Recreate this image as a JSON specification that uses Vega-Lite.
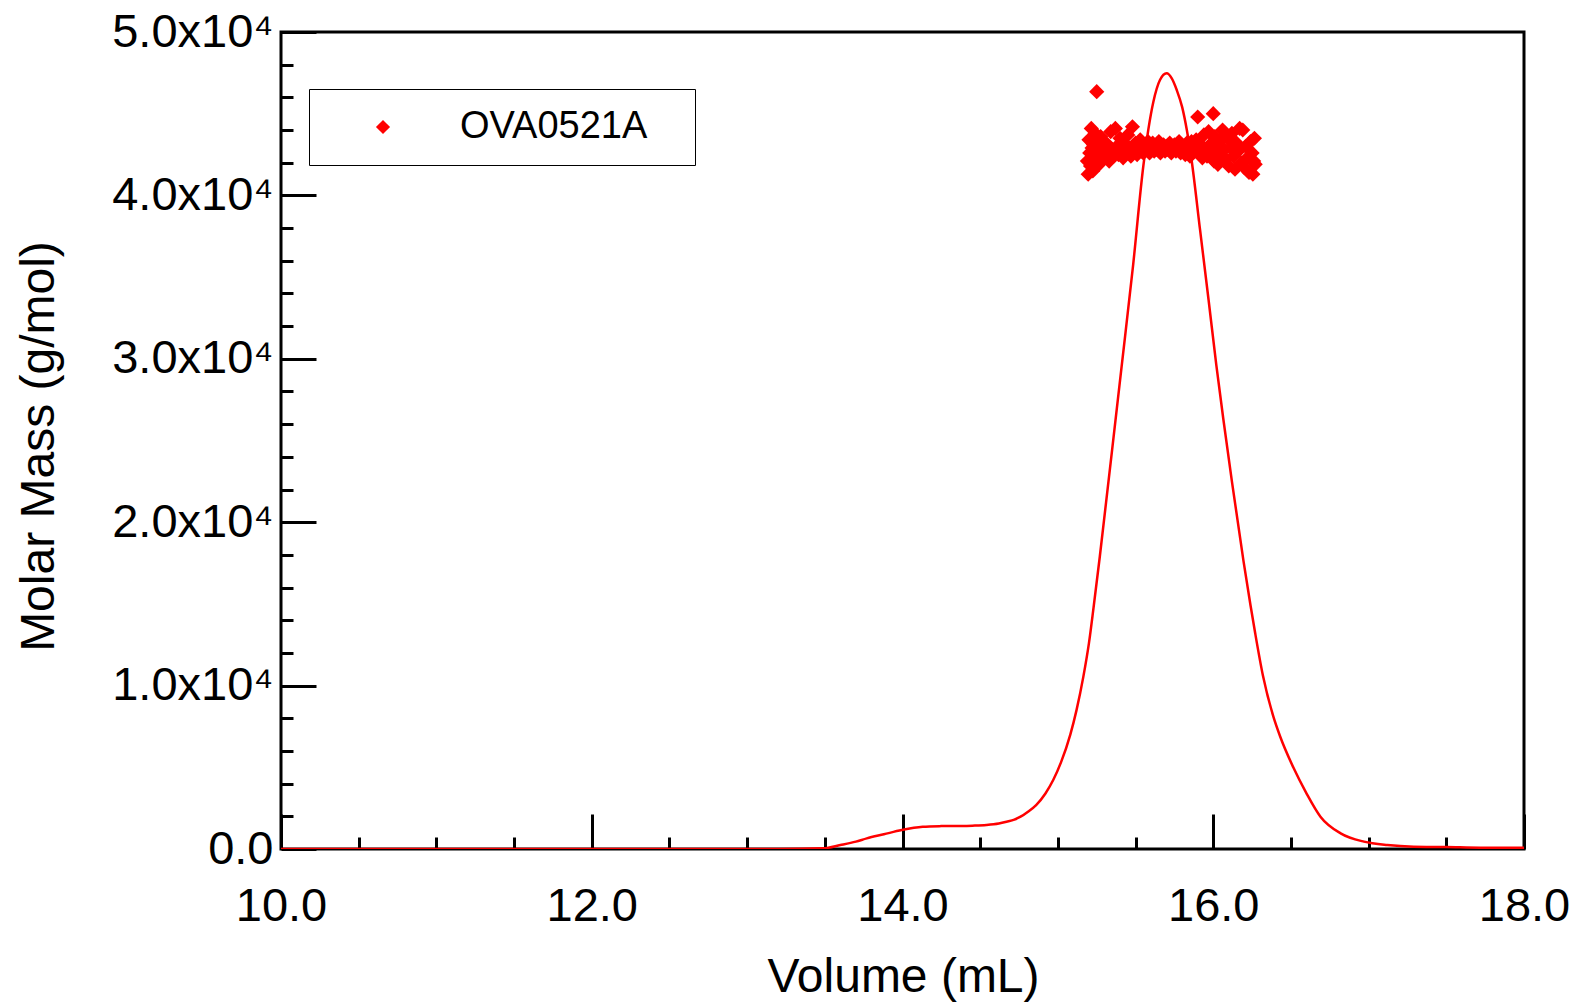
{
  "$schema": "https://vega.github.io/schema/vega-lite/v6.json",
  "width": 1243,
  "height": 817,
  "autosize": {"type": "none"},
  "padding": {"left": 281, "top": 32, "right": 56, "bottom": 155},
  "background": "white",
  "config": {
    "view": {"stroke": "black", "strokeWidth": 3},
    "axis": {
      "labelFont": "Liberation Sans",
      "titleFont": "Liberation Sans",
      "labelColor": "black",
      "titleColor": "black",
      "tickColor": "black",
      "tickWidth": 3,
      "domain": false,
      "grid": false,
      "titleFontWeight": "normal",
      "labelFontSize": 47,
      "titleFontSize": 48
    },
    "legend": {"labelFont": "Liberation Sans"}
  },
  "datasets": {
    "trace": [
      {"volume": 10.0, "signal": 0},
      {"volume": 13.2, "signal": 0},
      {"volume": 13.49, "signal": 40},
      {"volume": 13.6, "signal": 240},
      {"volume": 13.7, "signal": 450},
      {"volume": 13.77, "signal": 650},
      {"volume": 13.88, "signal": 900},
      {"volume": 13.995, "signal": 1160},
      {"volume": 14.13, "signal": 1360},
      {"volume": 14.25, "signal": 1400},
      {"volume": 14.35, "signal": 1410},
      {"volume": 14.45, "signal": 1430},
      {"volume": 14.54, "signal": 1470},
      {"volume": 14.62, "signal": 1560},
      {"volume": 14.67, "signal": 1670},
      {"volume": 14.72, "signal": 1800},
      {"volume": 14.76, "signal": 1980},
      {"volume": 14.81, "signal": 2300},
      {"volume": 14.86, "signal": 2690},
      {"volume": 14.92, "signal": 3400},
      {"volume": 14.97, "signal": 4220},
      {"volume": 15.02, "signal": 5300},
      {"volume": 15.08, "signal": 7000},
      {"volume": 15.12, "signal": 8500},
      {"volume": 15.164, "signal": 10550},
      {"volume": 15.2, "signal": 12600},
      {"volume": 15.23, "signal": 14800},
      {"volume": 15.27, "signal": 17900},
      {"volume": 15.31, "signal": 21200},
      {"volume": 15.35, "signal": 24500},
      {"volume": 15.41, "signal": 29500},
      {"volume": 15.485, "signal": 35800},
      {"volume": 15.55, "signal": 41800},
      {"volume": 15.614, "signal": 45700},
      {"volume": 15.657, "signal": 47060},
      {"volume": 15.7, "signal": 47470},
      {"volume": 15.733, "signal": 47160},
      {"volume": 15.765, "signal": 46450},
      {"volume": 15.8, "signal": 45400},
      {"volume": 15.83, "signal": 44000},
      {"volume": 15.86, "signal": 42200},
      {"volume": 15.915, "signal": 37900},
      {"volume": 15.97, "signal": 33600},
      {"volume": 16.02, "signal": 29600},
      {"volume": 16.065, "signal": 26300},
      {"volume": 16.12, "signal": 22500},
      {"volume": 16.195, "signal": 17600},
      {"volume": 16.24, "signal": 14900},
      {"volume": 16.27, "signal": 13200},
      {"volume": 16.32, "signal": 10600},
      {"volume": 16.387, "signal": 8100},
      {"volume": 16.43, "signal": 6900},
      {"volume": 16.515, "signal": 5000},
      {"volume": 16.6, "signal": 3410},
      {"volume": 16.69, "signal": 1980},
      {"volume": 16.82, "signal": 960},
      {"volume": 16.97, "signal": 450},
      {"volume": 17.12, "signal": 240},
      {"volume": 17.29, "signal": 140},
      {"volume": 17.5, "signal": 120},
      {"volume": 17.72, "signal": 80},
      {"volume": 18.0, "signal": 80}
    ],
    "mass": [
      {"sample": "OVA0521A", "volume": 15.190, "molar_mass": 42100},
      {"sample": "OVA0521A", "volume": 15.195, "molar_mass": 41300},
      {"sample": "OVA0521A", "volume": 15.200, "molar_mass": 43400},
      {"sample": "OVA0521A", "volume": 15.205, "molar_mass": 42600},
      {"sample": "OVA0521A", "volume": 15.210, "molar_mass": 41800},
      {"sample": "OVA0521A", "volume": 15.215, "molar_mass": 44100},
      {"sample": "OVA0521A", "volume": 15.220, "molar_mass": 42900},
      {"sample": "OVA0521A", "volume": 15.225, "molar_mass": 41500},
      {"sample": "OVA0521A", "volume": 15.230, "molar_mass": 43100},
      {"sample": "OVA0521A", "volume": 15.235, "molar_mass": 42300},
      {"sample": "OVA0521A", "volume": 15.240, "molar_mass": 43800},
      {"sample": "OVA0521A", "volume": 15.245, "molar_mass": 42000},
      {"sample": "OVA0521A", "volume": 15.250, "molar_mass": 46350},
      {"sample": "OVA0521A", "volume": 15.255, "molar_mass": 42700},
      {"sample": "OVA0521A", "volume": 15.260, "molar_mass": 43300},
      {"sample": "OVA0521A", "volume": 15.265, "molar_mass": 41900},
      {"sample": "OVA0521A", "volume": 15.270, "molar_mass": 42500},
      {"sample": "OVA0521A", "volume": 15.275, "molar_mass": 43600},
      {"sample": "OVA0521A", "volume": 15.280, "molar_mass": 42200},
      {"sample": "OVA0521A", "volume": 15.290, "molar_mass": 42900},
      {"sample": "OVA0521A", "volume": 15.300, "molar_mass": 42400},
      {"sample": "OVA0521A", "volume": 15.310, "molar_mass": 43200},
      {"sample": "OVA0521A", "volume": 15.320, "molar_mass": 42600},
      {"sample": "OVA0521A", "volume": 15.330, "molar_mass": 42100},
      {"sample": "OVA0521A", "volume": 15.340, "molar_mass": 43900},
      {"sample": "OVA0521A", "volume": 15.350, "molar_mass": 42800},
      {"sample": "OVA0521A", "volume": 15.360, "molar_mass": 42400},
      {"sample": "OVA0521A", "volume": 15.370, "molar_mass": 44100},
      {"sample": "OVA0521A", "volume": 15.380, "molar_mass": 43000},
      {"sample": "OVA0521A", "volume": 15.390, "molar_mass": 42500},
      {"sample": "OVA0521A", "volume": 15.400, "molar_mass": 43500},
      {"sample": "OVA0521A", "volume": 15.410, "molar_mass": 42700},
      {"sample": "OVA0521A", "volume": 15.420, "molar_mass": 42300},
      {"sample": "OVA0521A", "volume": 15.430, "molar_mass": 43100},
      {"sample": "OVA0521A", "volume": 15.440, "molar_mass": 42600},
      {"sample": "OVA0521A", "volume": 15.450, "molar_mass": 43700},
      {"sample": "OVA0521A", "volume": 15.460, "molar_mass": 42900},
      {"sample": "OVA0521A", "volume": 15.470, "molar_mass": 42400},
      {"sample": "OVA0521A", "volume": 15.480, "molar_mass": 44200},
      {"sample": "OVA0521A", "volume": 15.490, "molar_mass": 42800},
      {"sample": "OVA0521A", "volume": 15.500, "molar_mass": 43200},
      {"sample": "OVA0521A", "volume": 15.510, "molar_mass": 42500},
      {"sample": "OVA0521A", "volume": 15.520, "molar_mass": 42900},
      {"sample": "OVA0521A", "volume": 15.530, "molar_mass": 43400},
      {"sample": "OVA0521A", "volume": 15.540, "molar_mass": 42700},
      {"sample": "OVA0521A", "volume": 15.550, "molar_mass": 42600},
      {"sample": "OVA0521A", "volume": 15.560, "molar_mass": 43100},
      {"sample": "OVA0521A", "volume": 15.570, "molar_mass": 42800},
      {"sample": "OVA0521A", "volume": 15.580, "molar_mass": 43300},
      {"sample": "OVA0521A", "volume": 15.590, "molar_mass": 42600},
      {"sample": "OVA0521A", "volume": 15.600, "molar_mass": 42900},
      {"sample": "OVA0521A", "volume": 15.610, "molar_mass": 43200},
      {"sample": "OVA0521A", "volume": 15.620, "molar_mass": 42700},
      {"sample": "OVA0521A", "volume": 15.630, "molar_mass": 43000},
      {"sample": "OVA0521A", "volume": 15.640, "molar_mass": 42800},
      {"sample": "OVA0521A", "volume": 15.650, "molar_mass": 43300},
      {"sample": "OVA0521A", "volume": 15.660, "molar_mass": 42600},
      {"sample": "OVA0521A", "volume": 15.670, "molar_mass": 42900},
      {"sample": "OVA0521A", "volume": 15.680, "molar_mass": 43100},
      {"sample": "OVA0521A", "volume": 15.690, "molar_mass": 42700},
      {"sample": "OVA0521A", "volume": 15.700, "molar_mass": 43000},
      {"sample": "OVA0521A", "volume": 15.710, "molar_mass": 42800},
      {"sample": "OVA0521A", "volume": 15.720, "molar_mass": 43200},
      {"sample": "OVA0521A", "volume": 15.730, "molar_mass": 42600},
      {"sample": "OVA0521A", "volume": 15.740, "molar_mass": 42900},
      {"sample": "OVA0521A", "volume": 15.750, "molar_mass": 43100},
      {"sample": "OVA0521A", "volume": 15.760, "molar_mass": 42700},
      {"sample": "OVA0521A", "volume": 15.770, "molar_mass": 42900},
      {"sample": "OVA0521A", "volume": 15.780, "molar_mass": 43300},
      {"sample": "OVA0521A", "volume": 15.790, "molar_mass": 42600},
      {"sample": "OVA0521A", "volume": 15.800, "molar_mass": 42900},
      {"sample": "OVA0521A", "volume": 15.810, "molar_mass": 43000},
      {"sample": "OVA0521A", "volume": 15.820, "molar_mass": 42500},
      {"sample": "OVA0521A", "volume": 15.830, "molar_mass": 43200},
      {"sample": "OVA0521A", "volume": 15.840, "molar_mass": 42800},
      {"sample": "OVA0521A", "volume": 15.850, "molar_mass": 42400},
      {"sample": "OVA0521A", "volume": 15.860, "molar_mass": 43300},
      {"sample": "OVA0521A", "volume": 15.870, "molar_mass": 42700},
      {"sample": "OVA0521A", "volume": 15.880, "molar_mass": 42900},
      {"sample": "OVA0521A", "volume": 15.890, "molar_mass": 43400},
      {"sample": "OVA0521A", "volume": 15.900, "molar_mass": 44800},
      {"sample": "OVA0521A", "volume": 15.910, "molar_mass": 42600},
      {"sample": "OVA0521A", "volume": 15.920, "molar_mass": 43100},
      {"sample": "OVA0521A", "volume": 15.930, "molar_mass": 42300},
      {"sample": "OVA0521A", "volume": 15.940, "molar_mass": 43700},
      {"sample": "OVA0521A", "volume": 15.950, "molar_mass": 42800},
      {"sample": "OVA0521A", "volume": 15.960, "molar_mass": 42400},
      {"sample": "OVA0521A", "volume": 15.970, "molar_mass": 43900},
      {"sample": "OVA0521A", "volume": 15.980, "molar_mass": 42600},
      {"sample": "OVA0521A", "volume": 15.990, "molar_mass": 43200},
      {"sample": "OVA0521A", "volume": 16.000, "molar_mass": 45000},
      {"sample": "OVA0521A", "volume": 16.005, "molar_mass": 42100},
      {"sample": "OVA0521A", "volume": 16.010, "molar_mass": 43600},
      {"sample": "OVA0521A", "volume": 16.020, "molar_mass": 42700},
      {"sample": "OVA0521A", "volume": 16.030, "molar_mass": 41900},
      {"sample": "OVA0521A", "volume": 16.040, "molar_mass": 43300},
      {"sample": "OVA0521A", "volume": 16.050, "molar_mass": 42500},
      {"sample": "OVA0521A", "volume": 16.060, "molar_mass": 44000},
      {"sample": "OVA0521A", "volume": 16.070, "molar_mass": 42800},
      {"sample": "OVA0521A", "volume": 16.080, "molar_mass": 42200},
      {"sample": "OVA0521A", "volume": 16.090, "molar_mass": 43500},
      {"sample": "OVA0521A", "volume": 16.100, "molar_mass": 41800},
      {"sample": "OVA0521A", "volume": 16.110, "molar_mass": 42900},
      {"sample": "OVA0521A", "volume": 16.120, "molar_mass": 43800},
      {"sample": "OVA0521A", "volume": 16.130, "molar_mass": 42400},
      {"sample": "OVA0521A", "volume": 16.140, "molar_mass": 41600},
      {"sample": "OVA0521A", "volume": 16.150, "molar_mass": 43200},
      {"sample": "OVA0521A", "volume": 16.160, "molar_mass": 42700},
      {"sample": "OVA0521A", "volume": 16.170, "molar_mass": 44100},
      {"sample": "OVA0521A", "volume": 16.180, "molar_mass": 42000},
      {"sample": "OVA0521A", "volume": 16.190, "molar_mass": 44000},
      {"sample": "OVA0521A", "volume": 16.200, "molar_mass": 41700},
      {"sample": "OVA0521A", "volume": 16.210, "molar_mass": 43000},
      {"sample": "OVA0521A", "volume": 16.220, "molar_mass": 42300},
      {"sample": "OVA0521A", "volume": 16.230, "molar_mass": 41400},
      {"sample": "OVA0521A", "volume": 16.240, "molar_mass": 43300},
      {"sample": "OVA0521A", "volume": 16.250, "molar_mass": 42600},
      {"sample": "OVA0521A", "volume": 16.255, "molar_mass": 41300},
      {"sample": "OVA0521A", "volume": 16.260, "molar_mass": 42100},
      {"sample": "OVA0521A", "volume": 16.265, "molar_mass": 43500},
      {"sample": "OVA0521A", "volume": 16.270, "molar_mass": 41900}
    ]
  },
  "layer": [
    {
      "data": {"name": "trace"},
      "mark": {"type": "line", "color": "#ff0000", "strokeWidth": 2.5, "clip": true, "interpolate": "monotone"},
      "encoding": {
        "x": {
          "field": "volume", "type": "quantitative",
          "scale": {"domain": [10, 18], "nice": false, "zero": false},
          "axis": {
            "orient": "bottom",
            "values": [10, 12, 14, 16, 18],
            "format": ".1f",
            "tickSize": -35,
            "labelPadding": 69,
            "labelFlush": false,
            "labelOverlap": false,
            "title": "Volume (mL)",
            "titleX": 622,
            "titleY": 142,
            "titleAlign": "center",
            "titleBaseline": "alphabetic"
          }
        },
        "y": {
          "field": "signal", "type": "quantitative",
          "scale": {"domain": [0, 50000], "nice": false},
          "axis": {
            "orient": "left",
            "values": [0, 10000, 20000, 30000, 40000, 50000],
            "labelExpr": "datum.value == 0 ? '0.0' : format(datum.value / 10000, '.1f') + 'x10⁴'",
            "tickSize": -35,
            "labelPadding": 43,
            "labelFlush": false,
            "labelOverlap": false,
            "title": "Molar Mass (g/mol)",
            "titleX": -228,
            "titleY": 414,
            "titleAngle": 270,
            "titleAlign": "center",
            "titleBaseline": "alphabetic"
          }
        }
      }
    },
    {
      "data": {"name": "mass"},
      "mark": {"type": "point", "shape": "diamond", "filled": true, "size": 230, "opacity": 1, "clip": true},
      "encoding": {
        "x": {
          "field": "volume", "type": "quantitative",
          "axis": {
            "orient": "bottom",
            "values": [10.5, 11, 11.5, 12.5, 13, 13.5, 14.5, 15, 15.5, 16.5, 17, 17.5],
            "tickSize": -12,
            "labels": false,
            "title": null
          }
        },
        "y": {
          "field": "molar_mass", "type": "quantitative",
          "axis": {
            "orient": "left",
            "values": [2000, 4000, 6000, 8000, 12000, 14000, 16000, 18000, 22000, 24000, 26000, 28000, 32000, 34000, 36000, 38000, 42000, 44000, 46000, 48000],
            "tickSize": -12,
            "labels": false,
            "title": null
          }
        },
        "color": {
          "field": "sample", "type": "nominal",
          "scale": {"range": ["#ff0000"]},
          "legend": {
            "orient": "none",
            "legendX": 28,
            "legendY": 57,
            "title": null,
            "padding": 19,
            "strokeColor": "black",
            "symbolType": "diamond",
            "symbolSize": 200,
            "symbolOffset": 36,
            "labelOffset": 58,
            "labelFontSize": 38,
            "labelLimit": 0,
            "labelColor": "black",
            "labelExpr": "datum.label + '\u2800'",
            "encode": {
              "legend": {"update": {"strokeWidth": {"value": 3}}}
            }
          }
        }
      }
    }
  ],
  "resolve": {"axis": {"x": "independent", "y": "independent"}}
}
